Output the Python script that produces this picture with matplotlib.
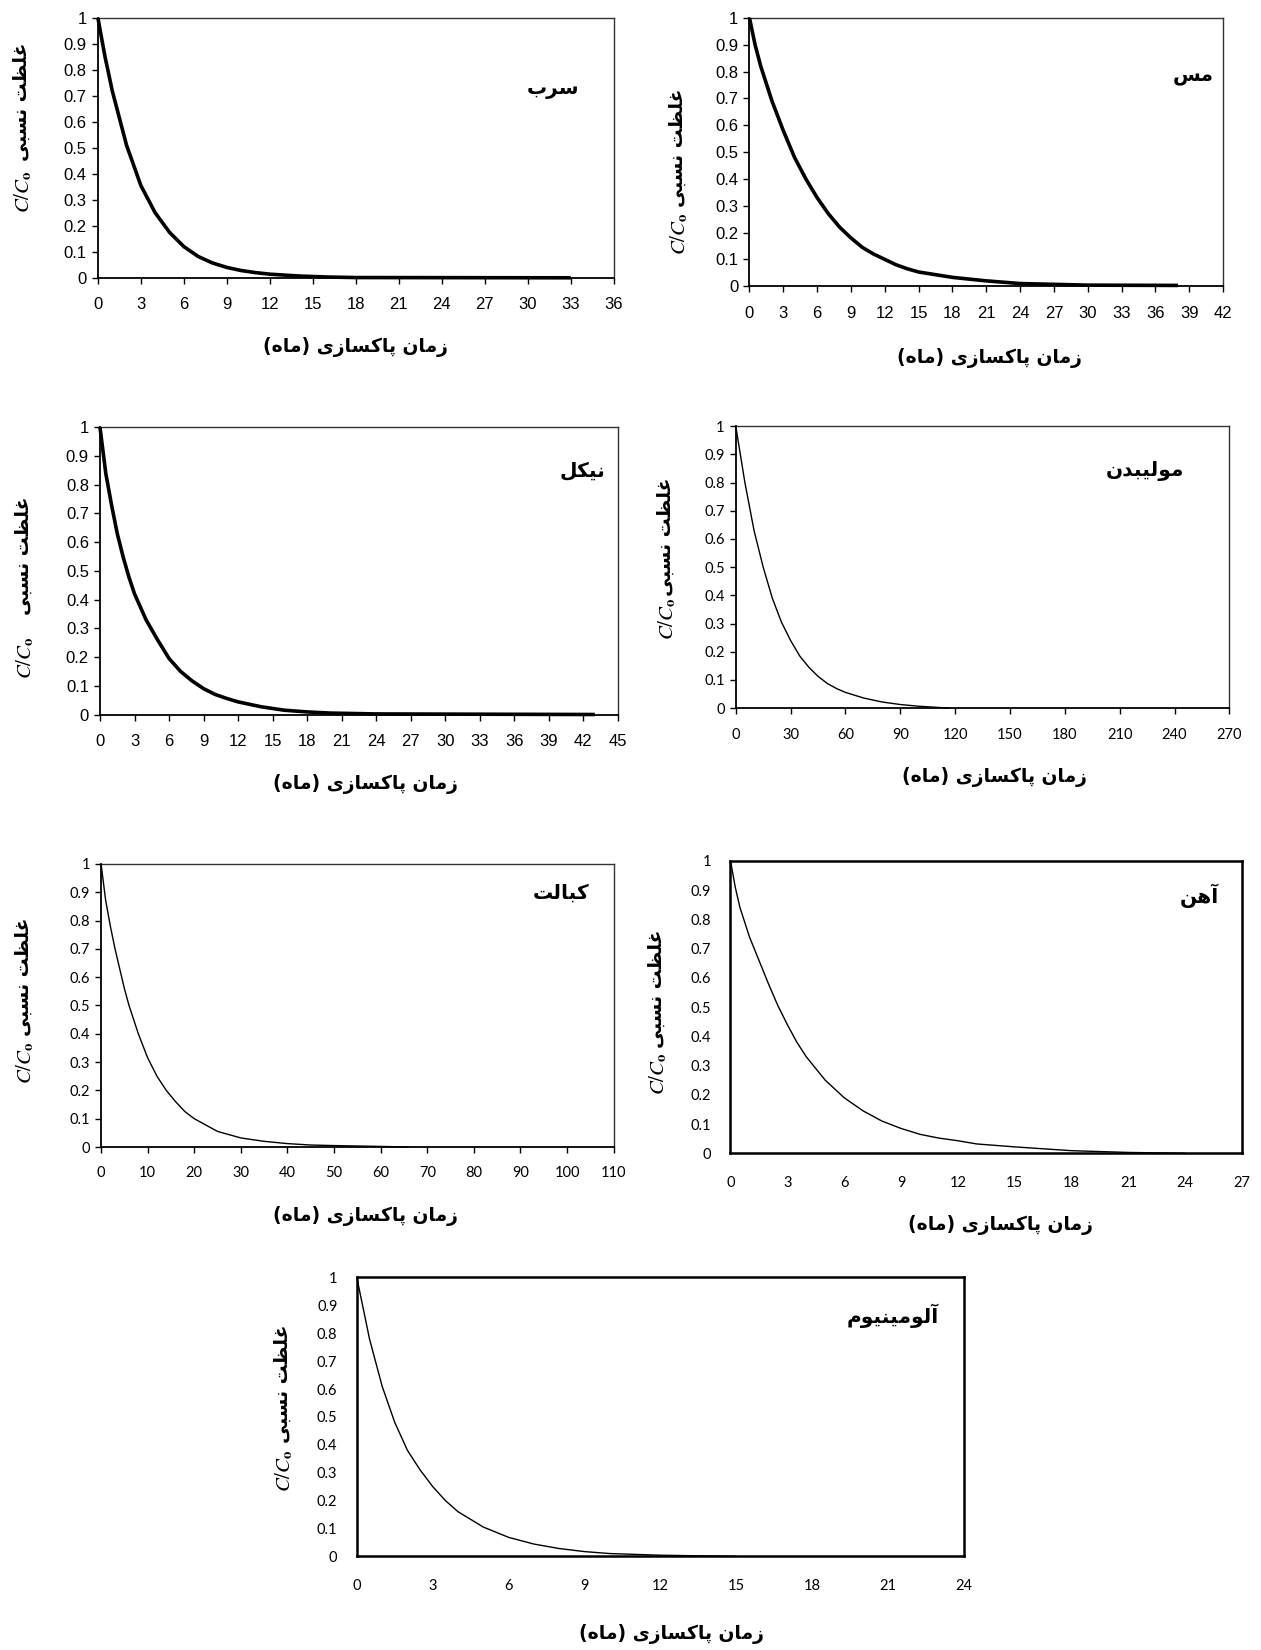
import matplotlib
matplotlib.use("Agg")
import matplotlib.pyplot as plt
from matplotlib.ticker import FuncFormatter, MultipleLocator

plt.rcParams['mathtext.fontset'] = 'stix'

# ---- data (months, C/C0) ----
lead_t = [0, 0.5, 1, 2, 3, 4, 5, 6, 7, 8, 9, 10, 11, 12, 14, 16, 18, 33]
lead_c = [1, 0.85, 0.72, 0.51, 0.355, 0.25, 0.175, 0.12, 0.082, 0.057, 0.04, 0.028, 0.02, 0.014, 0.007, 0.003, 0.001, 0]

copper_t = [0, 0.5, 1, 2, 3, 4, 5, 6, 7, 8, 9, 10, 11, 12, 13, 14, 15, 18, 21, 24, 27, 30, 38]
copper_c = [1, 0.9, 0.82, 0.69, 0.58, 0.48, 0.4, 0.33, 0.27, 0.22, 0.18, 0.145, 0.12, 0.1, 0.08, 0.065, 0.053,
            0.033, 0.02, 0.01, 0.007, 0.004, 0.003]

nickel_t = [0, 0.5, 1, 1.5, 2, 2.5, 3, 4, 5, 6, 7, 8, 9, 10, 11, 12, 14, 16, 18, 20, 24, 43]
nickel_c = [1, 0.84, 0.73, 0.63, 0.55, 0.48, 0.42, 0.33, 0.26, 0.195, 0.15, 0.117, 0.09, 0.07, 0.056, 0.044,
            0.027, 0.015, 0.009, 0.005, 0.002, 0]

moly_t = [0, 2.5, 5, 10, 15, 20, 25, 30, 35, 40, 45, 50, 55, 60, 70, 80, 90, 100, 110, 117]
moly_c = [1, 0.9, 0.8, 0.63, 0.5, 0.39, 0.305, 0.24, 0.185, 0.145, 0.113, 0.088, 0.07, 0.056, 0.036, 0.022,
          0.013, 0.007, 0.003, 0]

cobalt_t = [0, 1, 2, 3, 4, 5, 6, 8, 10, 12, 14, 16, 18, 20, 25, 30, 35, 40, 45, 50, 60, 66]
cobalt_c = [1, 0.87, 0.78, 0.7, 0.63, 0.56, 0.5, 0.4, 0.315, 0.25, 0.2, 0.16, 0.125, 0.1, 0.055, 0.032, 0.02,
            0.012, 0.007, 0.005, 0.002, 0]

iron_t = [0, 0.25, 0.5, 1, 1.5, 2, 2.5, 3, 3.5, 4, 5, 6, 7, 8, 9, 10, 11, 12, 13, 15, 18, 21, 24]
iron_c = [1, 0.91, 0.84, 0.74, 0.66, 0.58, 0.505, 0.44, 0.38, 0.33, 0.25, 0.19, 0.145, 0.11, 0.085, 0.065,
          0.052, 0.043, 0.032, 0.022, 0.009, 0.003, 0]

alum_t = [0, 0.5, 1, 1.5, 2, 2.5, 3, 3.5, 4, 5, 6, 7, 8, 9, 10, 12, 15]
alum_c = [1, 0.78, 0.61, 0.48, 0.38, 0.31, 0.25, 0.2, 0.16, 0.105, 0.068, 0.044, 0.028, 0.017, 0.01, 0.004, 0]

names = ['سرب', 'مس', 'نیکل', 'مولیبدن', 'کبالت', 'آهن', 'آلومینیوم']
xlabel_txt = 'زمان پاکسازی (ماه)'
ylabel_txt = 'غلظت نسبی'

# ---- simple persian shaping for matplotlib (no bidi support) ----
FORMS = {
    'ا': ('\uFE8D', '\uFE8E', None, None),
    'آ': ('\uFE81', '\uFE82', None, None),
    'ب': ('\uFE8F', '\uFE90', '\uFE91', '\uFE92'),
    'پ': ('\uFB56', '\uFB57', '\uFB58', '\uFB59'),
    'ت': ('\uFE95', '\uFE96', '\uFE97', '\uFE98'),
    'د': ('\uFEA9', '\uFEAA', None, None),
    'ر': ('\uFEAD', '\uFEAE', None, None),
    'ز': ('\uFEAF', '\uFEB0', None, None),
    'س': ('\uFEB1', '\uFEB2', '\uFEB3', '\uFEB4'),
    'ظ': ('\uFEC5', '\uFEC6', '\uFEC7', '\uFEC8'),
    'غ': ('\uFECD', '\uFECE', '\uFECF', '\uFED0'),
    'ک': ('\uFB8E', '\uFB8F', '\uFB90', '\uFB91'),
    'ل': ('\uFEDD', '\uFEDE', '\uFEDF', '\uFEE0'),
    'م': ('\uFEE1', '\uFEE2', '\uFEE3', '\uFEE4'),
    'ن': ('\uFEE5', '\uFEE6', '\uFEE7', '\uFEE8'),
    'ه': ('\uFEE9', '\uFEEA', '\uFEEB', '\uFEEC'),
    'و': ('\uFEED', '\uFEEE', None, None),
    'ی': ('\uFBFC', '\uFBFD', '\uFBFE', '\uFBFF'),
}


def fa(s):
    out = []
    for i, c in enumerate(s):
        if c not in FORMS:
            out.append(c)
            continue
        f = FORMS[c]
        prev = s[i - 1] if i > 0 else ''
        nxt = s[i + 1] if i + 1 < len(s) else ''
        pj = prev in FORMS and FORMS[prev][2] is not None
        nj = nxt in FORMS and f[2] is not None
        if pj and nj:
            out.append(f[3])
        elif pj:
            out.append(f[1])
        elif nj:
            out.append(f[2])
        else:
            out.append(f[0])
    vis = ''.join(reversed(out))
    return vis.translate(str.maketrans('()', ')('))


W, H = 1198, 1568


def rect(l, r, t, b):
    return [l / W, 1 - b / H, (r - l) / W, (b - t) / H]


def fx(x):
    return x / W


def fy(y):
    return 1 - y / H


fig = plt.figure(figsize=(12.61, 16.5), dpi=100)

panels = [
    # t, c, box(l, r, t, b), xmax, step, name pos, xlabel pos, persian y, c/c0 y, ylabel x, thick, font, ticks
    (lead_t, lead_c, (93, 583, 17, 264), 36, 3, (550, 85), (338, 330), 97, 182, 20, True, 'narrow', True),
    (copper_t, copper_c, (712, 1162, 17, 272), 42, 3, (1153, 73), (940, 340), 140, 222, 643, True, 'narrow', True),
    (nickel_t, nickel_c, (95, 587, 406, 679), 45, 3, (575, 447), (347, 745), 528, 625, 22, True, 'narrow', True),
    (moly_t, moly_c, (699, 1168, 405, 673), 270, 30, (1125, 448), (945, 738), 510, 588, 632, False, 'cal', True),
    (cobalt_t, cobalt_c, (96, 583, 821, 1090), 110, 10, (560, 849), (347, 1156), 928, 1010, 22, False, 'cal', True),
    (iron_t, iron_c, (694, 1180, 818, 1096), 27, 3, (1158, 851), (950, 1164), 940, 1020, 623, False, 'cal', False),
    (alum_t, alum_c, (339, 916, 1214, 1479), 24, 3, (892, 1250), (638, 1553), 1315, 1398, 268, False, 'cal', False),
]

narrow_font = ['Liberation Sans Narrow', 'Liberation Sans', 'DejaVu Sans']
cal_font = ['Lato', 'DejaVu Sans']
fa_font = ['DejaVu Sans']

for i, (t, c, box, xmax, step, npos, xlpos, yly, ccy, ylx, thick, fnt, ticks) in enumerate(panels):
    ax = fig.add_axes(rect(*box))
    ax.plot(t, c, color='black', lw=2.6 if thick else 1.0, solid_joinstyle='round',
            solid_capstyle='butt', clip_on=False, zorder=3)
    ax.set_xlim(0, xmax)
    ax.set_ylim(0, 1)
    ax.xaxis.set_major_locator(MultipleLocator(step))
    ax.yaxis.set_major_locator(MultipleLocator(0.1))
    ax.yaxis.set_major_formatter(FuncFormatter(lambda v, p: '%g' % round(v, 1)))
    tf = narrow_font if fnt == 'narrow' else cal_font
    fs = 12 if fnt == 'narrow' else 10.5
    for lab in ax.get_xticklabels() + ax.get_yticklabels():
        lab.set_family(tf)
        lab.set_fontsize(fs)
    if ticks:
        ax.tick_params(axis='x', direction='out', length=4, width=1, pad=10)
        ax.tick_params(axis='y', direction='out', length=4, width=1, pad=4)
        for side in ['left', 'bottom']:
            ax.spines[side].set_linewidth(1.3)
        for side in ['top', 'right']:
            ax.spines[side].set_linewidth(1.0)
            ax.spines[side].set_color('#333333')
    else:
        ax.tick_params(axis='x', length=0, pad=16)
        ax.tick_params(axis='y', length=0, pad=14)
        for side in ax.spines:
            ax.spines[side].set_linewidth(1.8)

    fig.text(fx(npos[0]), fy(npos[1]), fa(names[i]), ha='right', va='center',
             fontsize=14.5, fontweight='bold', family=fa_font)
    fig.text(fx(xlpos[0]), fy(xlpos[1]), fa(xlabel_txt), ha='center', va='center',
             fontsize=13.5, fontweight='bold', family=fa_font)
    fig.text(fx(ylx), fy(yly), fa(ylabel_txt), ha='center', va='center', rotation=90,
             fontsize=13.5, fontweight='bold', family=fa_font)
    fig.text(fx(ylx + 2), fy(ccy), r'$C/C_\mathbf{o}$', ha='center', va='center', rotation=90,
             fontsize=15)

fig.savefig('out.png', dpi=100)
